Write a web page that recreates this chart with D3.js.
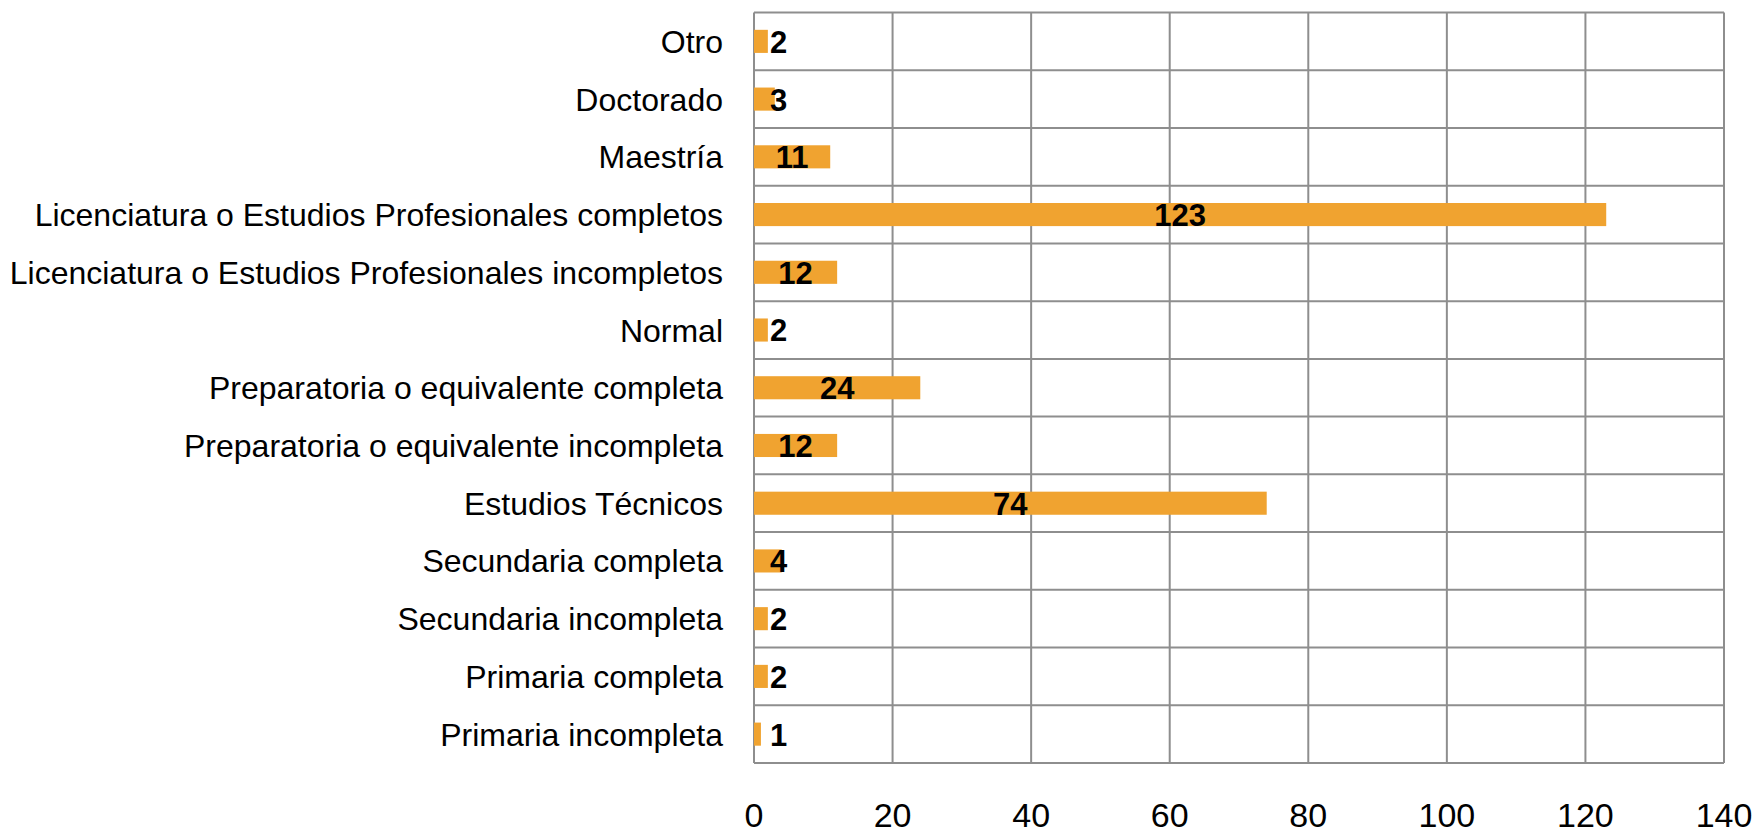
<!DOCTYPE html>
<html><head><meta charset="utf-8">
<script src="https://cdn.jsdelivr.net/npm/d3@7"></script>
<style>
html,body{margin:0;padding:0;background:#fff;}
svg{display:block;font-family:"Liberation Sans",Arial,sans-serif;}
</style></head>
<body>
<svg id="chart" width="1759" height="835"></svg>
<script>
const categories = [
  "Otro",
  "Doctorado",
  "Maestría",
  "Licenciatura o Estudios Profesionales completos",
  "Licenciatura o Estudios Profesionales incompletos",
  "Normal",
  "Preparatoria o equivalente completa",
  "Preparatoria o equivalente incompleta",
  "Estudios Técnicos",
  "Secundaria completa",
  "Secundaria incompleta",
  "Primaria completa",
  "Primaria incompleta"
];
const values = [2, 3, 11, 123, 12, 2, 24, 12, 74, 4, 2, 2, 1];
const xTicks = [0, 20, 40, 60, 80, 100, 120, 140];

const margin = {top: 12.5, right: 35, bottom: 72, left: 754};
const W = 1759, H = 835;
const svg = d3.select("#chart");
const x = d3.scaleLinear().domain([0, 140]).range([margin.left, W - margin.right]);
const y = d3.scaleBand().domain(categories).range([margin.top, H - margin.bottom])
  .paddingInner(0.6).paddingOuter(0.3);

const gridColor = "#8e8e8e";
// vertical gridlines
svg.append("g").selectAll("line").data(xTicks).join("line")
  .attr("x1", d => x(d)).attr("x2", d => x(d))
  .attr("y1", margin.top).attr("y2", H - margin.bottom)
  .attr("stroke", gridColor).attr("stroke-width", 2);
// horizontal gridlines at band boundaries
const step = y.step();
const bounds = d3.range(categories.length + 1).map(i => margin.top + i * step);
svg.append("g").selectAll("line").data(bounds).join("line")
  .attr("x1", margin.left).attr("x2", W - margin.right)
  .attr("y1", d => d).attr("y2", d => d)
  .attr("stroke", gridColor).attr("stroke-width", 2);

// bars
svg.append("g").selectAll("rect").data(categories).join("rect")
  .attr("x", x(0))
  .attr("y", d => y(d))
  .attr("width", (d, i) => x(values[i]) - x(0))
  .attr("height", y.bandwidth())
  .attr("fill", "#F0A330");

// value labels
const vfs = 31;
svg.append("g").selectAll("text").data(categories).join("text")
  .attr("x", (d, i) => {
    const c = (x(0) + x(values[i])) / 2;
    const w = String(values[i]).length * 0.556 * vfs;
    return Math.max(c, x(0) + 16 + w / 2);
  })
  .attr("y", d => y(d) + y.bandwidth() / 2)
  .attr("dy", "0.37em")
  .attr("text-anchor", "middle")
  .attr("font-weight", "bold")
  .attr("font-size", vfs)
  .attr("fill", "#000")
  .text((d, i) => values[i]);

// category labels
const cfs = 32;
svg.append("g").selectAll("text").data(categories).join("text")
  .attr("x", margin.left - 31)
  .attr("y", d => y(d) + y.bandwidth() / 2)
  .attr("dy", "0.36em")
  .attr("text-anchor", "end")
  .attr("font-size", cfs)
  .attr("fill", "#000")
  .text(d => d);

// x tick labels
svg.append("g").selectAll("text").data(xTicks).join("text")
  .attr("x", d => x(d))
  .attr("y", 827)
  .attr("text-anchor", "middle")
  .attr("font-size", 34)
  .attr("fill", "#000")
  .text(d => d);
</script>
</body></html>
